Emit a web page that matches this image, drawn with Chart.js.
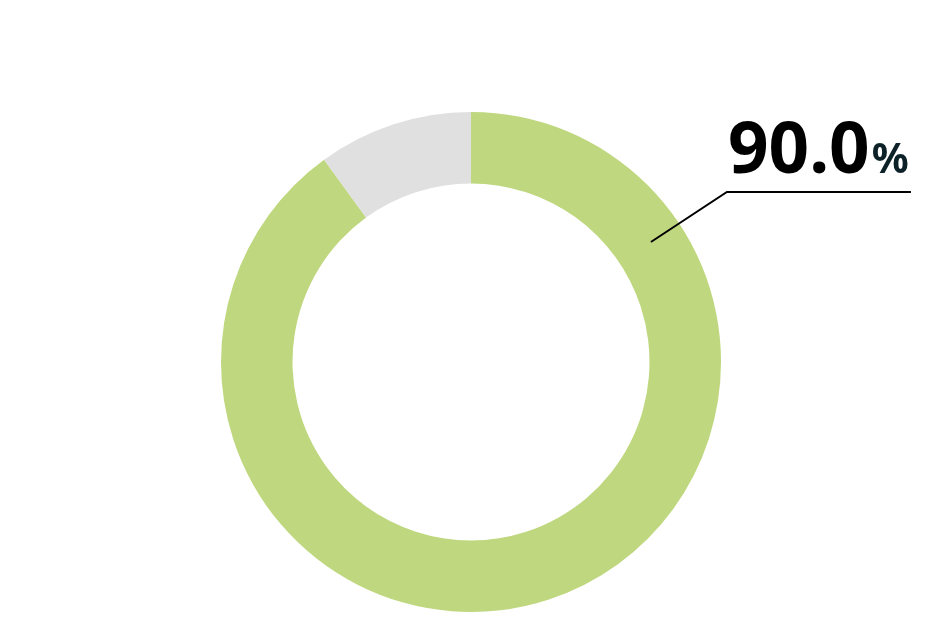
<!DOCTYPE html>
<html>
<head>
<meta charset="utf-8">
<script src="https://cdn.jsdelivr.net/npm/chart.js@4/dist/chart.umd.min.js"></script>
<style>
html,body{margin:0;padding:0;background:#fff;}
#wrap{width:944px;height:618px;position:relative;}
</style>
</head>
<body>
<div id="wrap"><canvas id="c" width="944" height="618"></canvas></div>
<script>
const categories = ["達成", "未達成"];
const values = [90.0, 10.0];
const colors = ["#bfd77e", "#e0e0e0"];
const labelValue = "90.0";
const labelUnit = "%";

const calloutPlugin = {
  id: 'callout',
  afterDatasetsDraw(chart) {
    const arc = chart.getDatasetMeta(0).data[0];
    if (!arc) return;
    const {x, y, innerRadius, outerRadius} = arc.getProps(['x','y','innerRadius','outerRadius'], true);
    const ang = -Math.PI/2 + 56.3 * Math.PI/180;
    const r = (innerRadius + outerRadius) / 2 + 2;
    const ax = x + r * Math.cos(ang), ay = y + r * Math.sin(ang);
    const ctx = chart.ctx;
    const kx = ax + 76, ky = ay - 50;
    const ex = kx + 184;
    ctx.save();
    ctx.strokeStyle = '#000';
    ctx.lineWidth = 2;
    ctx.beginPath();
    ctx.moveTo(ax, ay);
    ctx.lineTo(kx, ky);
    ctx.lineTo(ex, ky);
    ctx.stroke();
    ctx.textBaseline = 'alphabetic';
    ctx.textAlign = 'left';
    ctx.fillStyle = '#000';
    ctx.font = 'bold 71px "Noto Sans", "Open Sans", sans-serif';
    const tx = kx + 1, ty = ky - 19;
    ctx.fillText(labelValue, tx, ty);
    const w = ctx.measureText(labelValue).width;
    ctx.fillStyle = '#0d2228';
    ctx.font = 'bold 41px "Noto Sans", "Open Sans", sans-serif';
    ctx.fillText(labelUnit, tx + w + 2, ty);
    ctx.restore();
  }
};

new Chart(document.getElementById('c'), {
  type: 'doughnut',
  data: {
    labels: categories,
    datasets: [{
      data: values,
      backgroundColor: colors,
      borderWidth: 0,
      hoverOffset: 0
    }]
  },
  options: {
    responsive: false,
    animation: false,
    cutout: '71.4%',
    layout: { padding: { top: 112, bottom: 6, right: 2 } },
    plugins: {
      legend: { display: false },
      tooltip: { enabled: false }
    }
  },
  plugins: [calloutPlugin]
});
</script>
</body>
</html>
